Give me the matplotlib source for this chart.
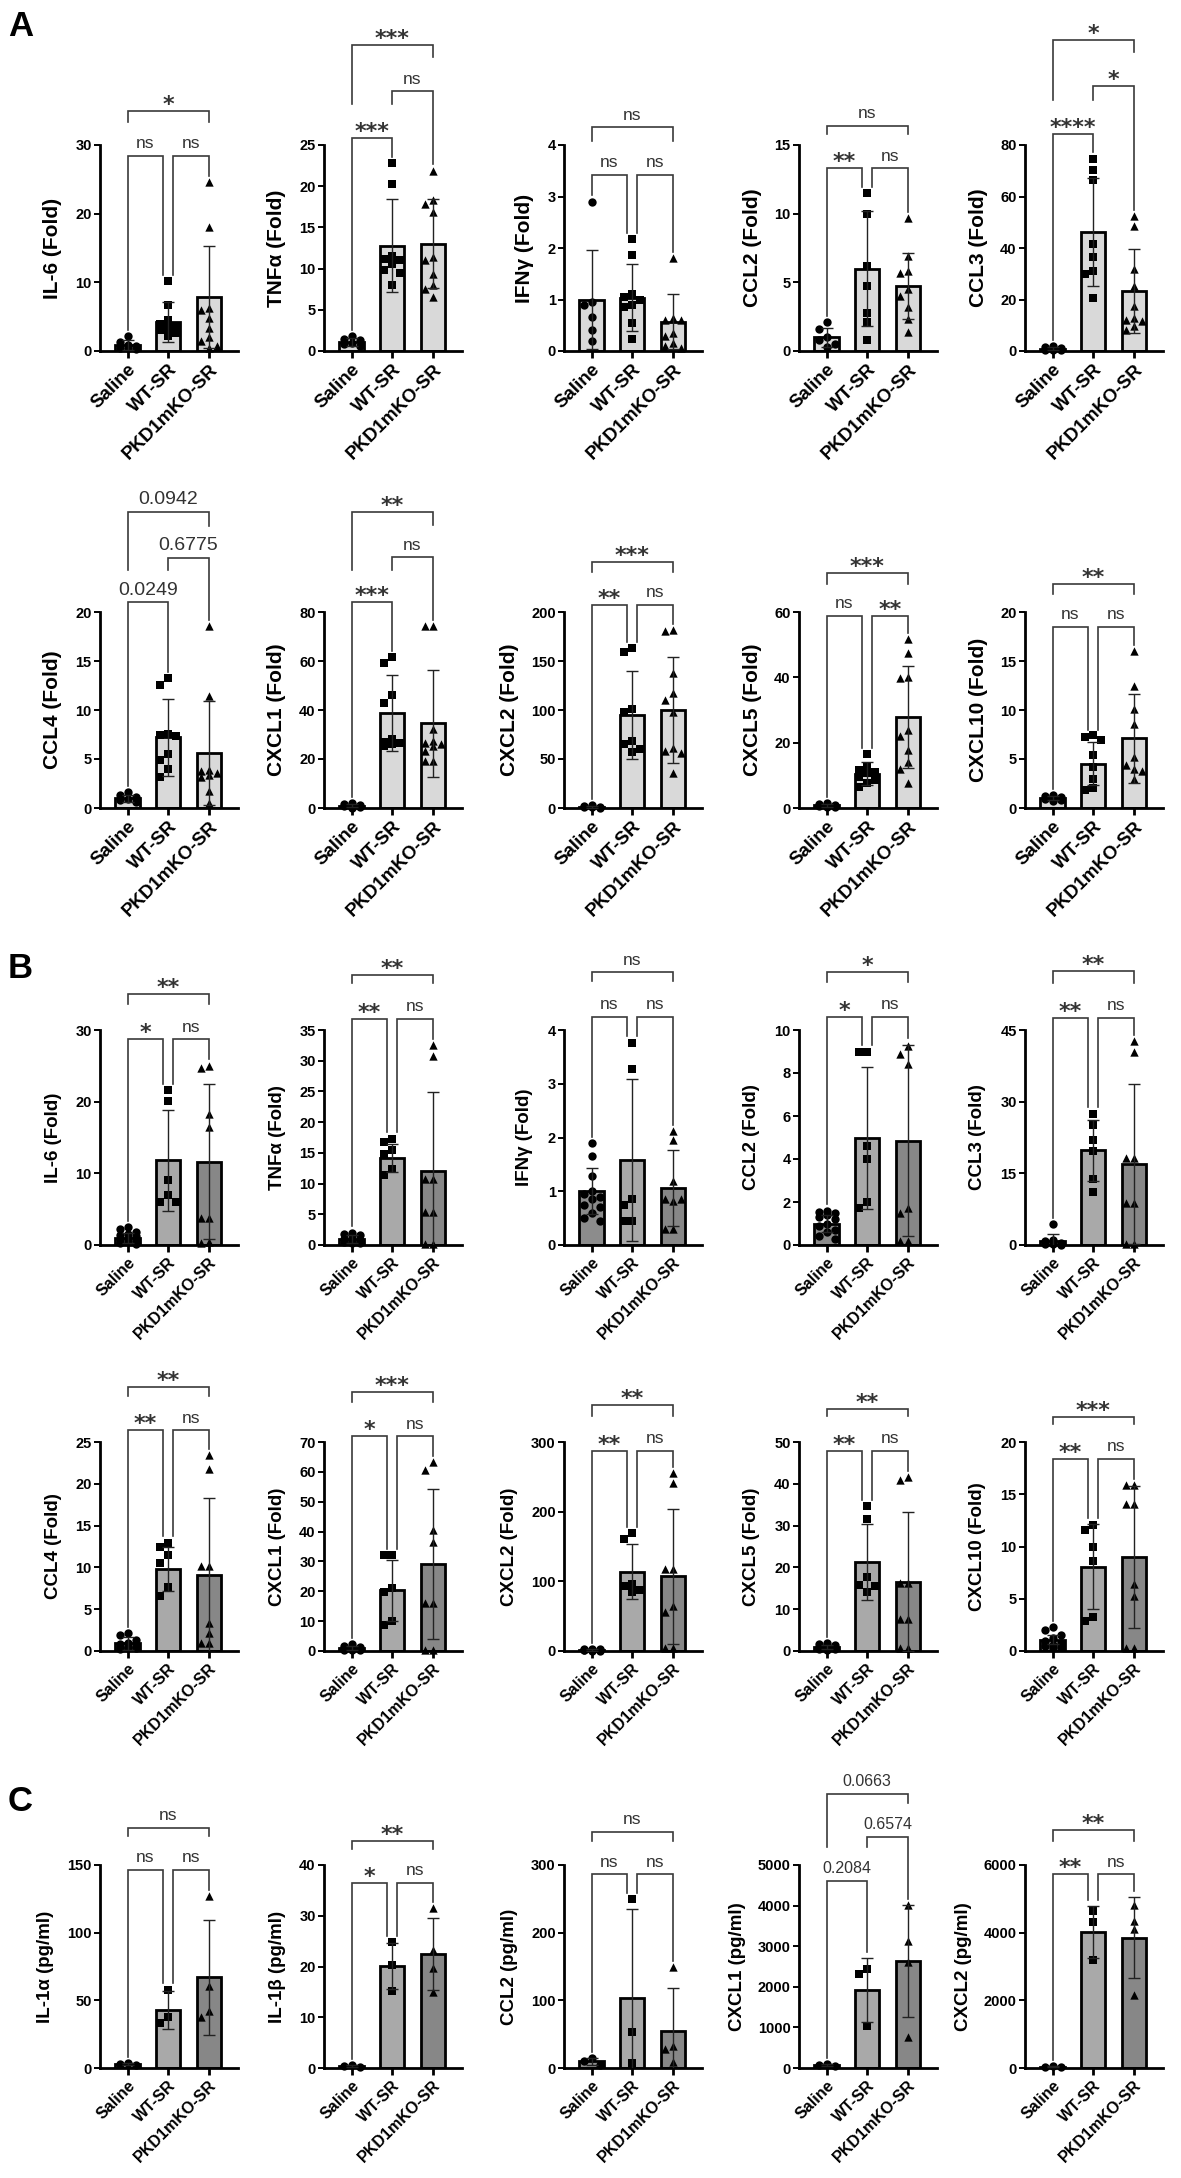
import numpy as np
import matplotlib
matplotlib.use("Agg")
import matplotlib.pyplot as plt

plt.rcParams['font.family'] = ['Liberation Sans', 'DejaVu Sans']

groups = ["Saline", "WT-SR", "PKD1mKO-SR"]

# ---------------- A (tissue mRNA, fold) ----------------
a_il6_pts = [[2.2, 1.3, 0.9, 0.7, 0.5, 0.4, 0.3],
             [10.2, 6.7, 4.5, 3.9, 3.6, 3.3, 3.0, 2.6, 2.2],
             [24.6, 18.0, 6.3, 6.0, 4.8, 3.4, 2.0, 1.5, 0.8, 0.5]]
a_il6_mean = [0.9, 4.2, 7.9]
a_il6_sd = [0.7, 2.9, 7.4]
a_il6_br = [28.4, 28.4, 35.0]
a_il6_sig = ["ns", "ns", "*"]

a_tnfa_pts = [[1.8, 1.5, 1.3, 1.0, 0.8, 0.6],
              [22.8, 20.3, 11.5, 11.2, 11.0, 10.5, 9.8, 9.5, 8.0],
              [21.9, 18.3, 17.9, 16.9, 11.4, 11.0, 9.4, 8.0, 7.5, 6.6]]
a_tnfa_mean = [1.1, 12.8, 13.0]
a_tnfa_sd = [0.5, 5.7, 5.4]
a_tnfa_br = [25.8, 31.5, 37.1]
a_tnfa_sig = ["***", "ns", "***"]

a_ifng_pts = [[2.9, 0.95, 0.9, 0.66, 0.4, 0.2],
              [2.18, 1.87, 1.1, 1.05, 1.0, 0.9, 0.85, 0.55, 0.23],
              [1.8, 0.65, 0.6, 0.6, 0.35, 0.3, 0.15, 0.1, 0.05]]
a_ifng_mean = [1.0, 1.03, 0.57]
a_ifng_sd = [0.97, 0.65, 0.53]
a_ifng_br = [3.42, 3.42, 4.34]
a_ifng_sig = ["ns", "ns", "ns"]

a_ccl2_pts = [[2.1, 1.6, 1.0, 0.8, 0.5, 0.3],
              [11.5, 10.0, 6.2, 4.7, 2.8, 2.1, 0.8],
              [9.7, 6.9, 5.8, 5.7, 4.5, 4.0, 3.2, 2.3, 1.35]]
a_ccl2_mean = [1.0, 6.0, 4.7]
a_ccl2_sd = [0.7, 4.2, 2.4]
a_ccl2_br = [13.3, 13.3, 16.4]
a_ccl2_sig = ["**", "ns", "ns"]

a_ccl3_pts = [[1.9, 1.5, 1.0, 0.8, 0.5, 0.3, 0.2],
              [74.7, 70.2, 66.5, 41.4, 36.4, 31.2, 29.8, 20.7],
              [52.4, 48.4, 31.8, 25.3, 17.4, 12.8, 12.0, 11.5, 9.6, 8.0]]
a_ccl3_mean = [0.9, 46.2, 23.4]
a_ccl3_sd = [0.6, 21.0, 16.3]
a_ccl3_br = [84.4, 102.9, 120.8]
a_ccl3_sig = ["****", "*", "*"]

a_ccl4_pts = [[1.6, 1.3, 1.1, 0.9, 0.8, 0.6],
              [13.3, 12.6, 7.6, 7.4, 7.3, 5.5, 4.9, 4.0, 3.2],
              [18.6, 11.4, 3.9, 3.8, 3.6, 3.4, 3.2, 1.7, 0.5]]
a_ccl4_mean = [1.0, 7.2, 5.6]
a_ccl4_sd = [0.35, 3.9, 5.3]
a_ccl4_br = [21.0, 25.5, 30.2]
a_ccl4_sig = ["0.0249", "0.6775", "0.0942"]

a_cxcl1_pts = [[2.0, 1.5, 1.2, 1.0, 0.7, 0.4, 0.2],
               [61.5, 59.1, 46.0, 42.9, 28.1, 27.0, 26.5, 26.0, 25.4],
               [74.4, 74.4, 32.1, 27.4, 26.5, 26.0, 25.5, 23.3, 19.3, 19.0]]
a_cxcl1_mean = [1.0, 38.6, 34.5]
a_cxcl1_sd = [0.6, 15.5, 21.8]
a_cxcl1_br = [84.1, 102.3, 120.8]
a_cxcl1_sig = ["***", "ns", "**"]

a_cxcl2_pts = [[3.0, 2.0, 1.5, 1.0, 0.6, 0.3],
               [163.7, 159.0, 101.4, 98.0, 68.5, 65.0, 59.9, 57.0],
               [182.0, 181.0, 137.7, 117.0, 110.0, 98.0, 61.6, 58.0, 56.4, 35.6]]
a_cxcl2_mean = [1.4, 94.5, 99.7]
a_cxcl2_sd = [1.0, 45.0, 54.0]
a_cxcl2_br = [207.6, 207.6, 251.0]
a_cxcl2_sig = ["**", "ns", "***"]

a_cxcl5_pts = [[1.5, 1.2, 1.0, 0.8, 0.6, 0.4, 0.3],
               [16.6, 12.5, 11.5, 11.0, 10.8, 9.5, 8.5, 7.8, 6.3],
               [51.7, 47.4, 40.2, 39.9, 23.9, 22.0, 17.9, 14.1, 12.0, 7.8]]
a_cxcl5_mean = [0.8, 10.5, 27.8]
a_cxcl5_sd = [0.4, 3.5, 15.6]
a_cxcl5_br = [58.8, 58.8, 72.0]
a_cxcl5_sig = ["ns", "**", "***"]

a_cxcl10_pts = [[1.3, 1.2, 1.1, 1.0, 0.9, 0.8, 0.7],
                [7.4, 7.2, 6.9, 5.4, 4.2, 3.0, 2.0, 1.8],
                [16.0, 12.5, 10.1, 8.6, 5.2, 4.4, 4.0, 3.8, 3.0]]
a_cxcl10_mean = [1.0, 4.5, 7.1]
a_cxcl10_sd = [0.2, 2.2, 4.5]
a_cxcl10_br = [18.5, 18.5, 22.9]
a_cxcl10_sig = ["ns", "ns", "**"]

# ---------------- B (fold) ----------------
b_il6_pts = [[2.5, 2.2, 1.8, 1.5, 1.4, 1.2, 1.0, 0.8, 0.6, 0.5, 0.3, 0.2],
             [21.6, 20.1, 9.1, 7.0, 6.0, 6.0],
             [25.0, 24.7, 18.3, 16.5, 3.7, 3.7, 0.4, 0.3]]
b_il6_mean = [1.0, 11.8, 11.6]
b_il6_sd = [0.7, 7.1, 10.8]
b_il6_br = [28.7, 28.7, 35.0]
b_il6_sig = ["*", "ns", "**"]

b_tnfa_pts = [[2.0, 1.8, 1.6, 1.3, 1.0, 0.8, 0.6, 0.5, 0.4, 0.3],
              [17.3, 16.8, 15.5, 14.8, 12.4, 11.4],
              [32.5, 30.8, 10.8, 10.8, 5.3, 5.3, 0.2, 0.2]]
b_tnfa_mean = [1.0, 14.2, 12.0]
b_tnfa_sd = [0.6, 2.3, 12.9]
b_tnfa_br = [36.8, 36.8, 43.9]
b_tnfa_sig = ["**", "ns", "**"]

b_ifng_pts = [[1.89, 1.65, 1.29, 1.0, 0.95, 0.9, 0.85, 0.75, 0.7, 0.6, 0.51, 0.45],
              [3.76, 3.28, 0.85, 0.75, 0.45, 0.45],
              [2.12, 1.96, 1.2, 0.82, 0.85, 0.85, 0.29, 0.3]]
b_ifng_mean = [1.0, 1.58, 1.06]
b_ifng_sd = [0.43, 1.5, 0.7]
b_ifng_br = [4.25, 4.25, 5.07]
b_ifng_sig = ["ns", "ns", "ns"]

b_ccl2_pts = [[1.6, 1.55, 1.5, 1.4, 1.3, 1.2, 1.0, 0.9, 0.7, 0.6, 0.4, 0.3],
              [8.98, 8.98, 4.6, 4.0, 2.0, 1.72],
              [9.25, 8.9, 8.4, 1.7, 1.5, 0.2, 0.2]]
b_ccl2_mean = [1.0, 4.98, 4.86]
b_ccl2_sd = [0.4, 3.3, 4.45]
b_ccl2_br = [10.6, 10.6, 12.7]
b_ccl2_sig = ["*", "ns", "*"]

b_ccl3_pts = [[4.3, 1.0, 0.8, 0.5, 0.3, 0.2, 0.1],
              [27.5, 25.2, 22.0, 19.7, 13.8, 11.1],
              [42.7, 40.5, 18.2, 18.2, 8.8, 8.8, 0.3, 0.3]]
b_ccl3_mean = [0.9, 19.8, 17.0]
b_ccl3_sd = [1.5, 6.4, 16.8]
b_ccl3_br = [47.5, 47.5, 57.3]
b_ccl3_sig = ["**", "ns", "**"]

b_ccl4_pts = [[2.1, 1.9, 1.3, 1.0, 0.8, 0.6, 0.5, 0.5, 0.4, 0.3, 0.2],
              [12.95, 12.5, 11.5, 10.5, 7.6, 6.6],
              [23.4, 21.8, 10.2, 10.2, 3.3, 2.1, 0.9, 0.9]]
b_ccl4_mean = [0.9, 9.8, 9.1]
b_ccl4_sd = [0.8, 2.6, 9.2]
b_ccl4_br = [26.4, 26.4, 31.6]
b_ccl4_sig = ["**", "ns", "**"]

b_cxcl1_pts = [[2.2, 1.8, 1.5, 1.2, 1.0, 0.8, 0.6, 0.5, 0.3, 0.2],
               [32.0, 32.0, 21.1, 19.8, 10.2, 8.7],
               [63.3, 60.6, 40.6, 36.4, 16.1, 16.1, 0.5, 0.5]]
b_cxcl1_mean = [1.0, 20.3, 29.2]
b_cxcl1_sd = [0.6, 10.2, 25.2]
b_cxcl1_br = [71.9, 71.9, 86.7]
b_cxcl1_sig = ["*", "ns", "***"]

b_cxcl2_pts = [[3.0, 2.5, 2.2, 2.0, 1.5, 1.2, 1.0, 0.8, 0.5, 0.3],
               [168.7, 161.3, 95.9, 93.5, 87.6, 85.0],
               [254.8, 241.0, 118.0, 118.0, 64.0, 56.6, 5.0, 5.0]]
b_cxcl2_mean = [1.5, 114.0, 107.0]
b_cxcl2_sd = [0.9, 39.0, 97.0]
b_cxcl2_br = [287.7, 287.7, 353.0]
b_cxcl2_sig = ["**", "ns", "**"]

b_cxcl5_pts = [[1.8, 1.6, 1.4, 1.2, 1.0, 0.8, 0.6, 0.5, 0.4, 0.3],
               [34.6, 31.5, 17.6, 15.8, 15.5, 14.0],
               [41.6, 40.9, 16.2, 16.2, 7.7, 7.7, 0.8, 0.8]]
b_cxcl5_mean = [1.0, 21.3, 16.6]
b_cxcl5_sd = [0.5, 9.0, 16.6]
b_cxcl5_br = [47.9, 47.9, 57.9]
b_cxcl5_sig = ["**", "ns", "**"]

b_cxcl10_pts = [[2.3, 2.0, 1.5, 1.2, 1.0, 0.8, 0.6, 0.5, 0.4, 0.3],
                [12.1, 11.6, 10.0, 8.6, 3.3, 2.9],
                [15.9, 15.9, 14.1, 14.1, 6.4, 5.3, 0.3, 0.3]]
b_cxcl10_mean = [1.1, 8.06, 9.0]
b_cxcl10_sd = [0.45, 4.05, 6.8]
b_cxcl10_br = [18.4, 18.4, 22.4]
b_cxcl10_sig = ["**", "ns", "***"]

# ---------------- C (protein, pg/ml) ----------------
c_il1a_pts = [[3.8, 3.0, 2.4], [58.0, 38.0, 33.0], [127.2, 60.8, 41.8, 37.7]]
c_il1a_mean = [3.1, 43.0, 66.9]
c_il1a_sd = [0.7, 14.0, 42.4]
c_il1a_br = [146.4, 146.4, 177.5]
c_il1a_sig = ["ns", "ns", "ns"]

c_il1b_pts = [[0.6, 0.4, 0.2], [24.8, 20.2, 15.2], [31.5, 23.3, 19.7, 15.0]]
c_il1b_mean = [0.4, 20.1, 22.4]
c_il1b_sd = [0.2, 4.5, 7.1]
c_il1b_br = [36.5, 36.5, 44.8]
c_il1b_sig = ["*", "ns", "**"]

c_ccl2_pts = [[15.0, 10.0, 4.0], [250.0, 53.5, 7.9], [148.8, 32.6, 27.9, 9.3]]
c_ccl2_mean = [9.7, 103.8, 54.7]
c_ccl2_sd = [5.5, 131.0, 63.5]
c_ccl2_br = [286.0, 286.0, 349.0]
c_ccl2_sig = ["ns", "ns", "ns"]

c_cxcl1_pts = [[100.0, 80.0, 60.0], [2436.0, 2308.0, 1026.0], [4017.0, 3137.0, 2607.0, 769.0]]
c_cxcl1_mean = [80.0, 1923.0, 2633.0]
c_cxcl1_sd = [20.0, 780.0, 1380.0]
c_cxcl1_br = [4615.0, 5700.0, 6752.0]
c_cxcl1_sig = ["0.2084", "0.6574", "0.0663"]

c_cxcl2_pts = [[50.0, 30.0, 20.0], [4632.0, 4307.0, 3192.0], [4814.0, 4358.0, 4105.0, 2159.0]]
c_cxcl2_mean = [33.0, 4030.0, 3851.0]
c_cxcl2_sd = [15.0, 770.0, 1190.0]
c_cxcl2_br = [5726.0, 5726.0, 7044.0]
c_cxcl2_sig = ["**", "ns", "**"]

rows = [
    [("IL-6 (Fold)", [0, 10, 20, 30], a_il6_pts, a_il6_mean, a_il6_sd, a_il6_br, a_il6_sig),
     ("TNFα (Fold)", [0, 5, 10, 15, 20, 25], a_tnfa_pts, a_tnfa_mean, a_tnfa_sd, a_tnfa_br, a_tnfa_sig),
     ("IFNγ (Fold)", [0, 1, 2, 3, 4], a_ifng_pts, a_ifng_mean, a_ifng_sd, a_ifng_br, a_ifng_sig),
     ("CCL2 (Fold)", [0, 5, 10, 15], a_ccl2_pts, a_ccl2_mean, a_ccl2_sd, a_ccl2_br, a_ccl2_sig),
     ("CCL3 (Fold)", [0, 20, 40, 60, 80], a_ccl3_pts, a_ccl3_mean, a_ccl3_sd, a_ccl3_br, a_ccl3_sig)],
    [("CCL4 (Fold)", [0, 5, 10, 15, 20], a_ccl4_pts, a_ccl4_mean, a_ccl4_sd, a_ccl4_br, a_ccl4_sig),
     ("CXCL1 (Fold)", [0, 20, 40, 60, 80], a_cxcl1_pts, a_cxcl1_mean, a_cxcl1_sd, a_cxcl1_br, a_cxcl1_sig),
     ("CXCL2 (Fold)", [0, 50, 100, 150, 200], a_cxcl2_pts, a_cxcl2_mean, a_cxcl2_sd, a_cxcl2_br, a_cxcl2_sig),
     ("CXCL5 (Fold)", [0, 20, 40, 60], a_cxcl5_pts, a_cxcl5_mean, a_cxcl5_sd, a_cxcl5_br, a_cxcl5_sig),
     ("CXCL10 (Fold)", [0, 5, 10, 15, 20], a_cxcl10_pts, a_cxcl10_mean, a_cxcl10_sd, a_cxcl10_br, a_cxcl10_sig)],
    [("IL-6 (Fold)", [0, 10, 20, 30], b_il6_pts, b_il6_mean, b_il6_sd, b_il6_br, b_il6_sig),
     ("TNFα (Fold)", [0, 5, 10, 15, 20, 25, 30, 35], b_tnfa_pts, b_tnfa_mean, b_tnfa_sd, b_tnfa_br, b_tnfa_sig),
     ("IFNγ (Fold)", [0, 1, 2, 3, 4], b_ifng_pts, b_ifng_mean, b_ifng_sd, b_ifng_br, b_ifng_sig),
     ("CCL2 (Fold)", [0, 2, 4, 6, 8, 10], b_ccl2_pts, b_ccl2_mean, b_ccl2_sd, b_ccl2_br, b_ccl2_sig),
     ("CCL3 (Fold)", [0, 15, 30, 45], b_ccl3_pts, b_ccl3_mean, b_ccl3_sd, b_ccl3_br, b_ccl3_sig)],
    [("CCL4 (Fold)", [0, 5, 10, 15, 20, 25], b_ccl4_pts, b_ccl4_mean, b_ccl4_sd, b_ccl4_br, b_ccl4_sig),
     ("CXCL1 (Fold)", [0, 10, 20, 30, 40, 50, 60, 70], b_cxcl1_pts, b_cxcl1_mean, b_cxcl1_sd, b_cxcl1_br, b_cxcl1_sig),
     ("CXCL2 (Fold)", [0, 100, 200, 300], b_cxcl2_pts, b_cxcl2_mean, b_cxcl2_sd, b_cxcl2_br, b_cxcl2_sig),
     ("CXCL5 (Fold)", [0, 10, 20, 30, 40, 50], b_cxcl5_pts, b_cxcl5_mean, b_cxcl5_sd, b_cxcl5_br, b_cxcl5_sig),
     ("CXCL10 (Fold)", [0, 5, 10, 15, 20], b_cxcl10_pts, b_cxcl10_mean, b_cxcl10_sd, b_cxcl10_br, b_cxcl10_sig)],
    [("IL-1α (pg/ml)", [0, 50, 100, 150], c_il1a_pts, c_il1a_mean, c_il1a_sd, c_il1a_br, c_il1a_sig),
     ("IL-1β (pg/ml)", [0, 10, 20, 30, 40], c_il1b_pts, c_il1b_mean, c_il1b_sd, c_il1b_br, c_il1b_sig),
     ("CCL2 (pg/ml)", [0, 100, 200, 300], c_ccl2_pts, c_ccl2_mean, c_ccl2_sd, c_ccl2_br, c_ccl2_sig),
     ("CXCL1 (pg/ml)", [0, 1000, 2000, 3000, 4000, 5000], c_cxcl1_pts, c_cxcl1_mean, c_cxcl1_sd, c_cxcl1_br, c_cxcl1_sig),
     ("CXCL2 (pg/ml)", [0, 2000, 4000, 6000], c_cxcl2_pts, c_cxcl2_mean, c_cxcl2_sd, c_cxcl2_br, c_cxcl2_sig)],
]

# layout in pixels
W, H = 1181, 2178
col_x = [100, 324, 564, 799, 1025]
ax_w = 138
row_y = [(351, 145), (808, 612), (1245, 1030), (1651, 1442), (2068, 1865)]
light = ['#d9d9d9'] * 3
grays = ['#8c8c8c', '#a9a9a9', '#878787']
markers = ['o', 's', '^']
XMIN, XMAX = -0.68, 2.72

fig = plt.figure(figsize=(W / 100, H / 100), dpi=100)


def swarm(vals, ppu_x, ppu_y, diam=8.5, maxoff=13.0):
    # deterministic side-by-side placement of overlapping points
    placed = []
    offs = []
    step = diam * 0.95
    cands = [0.0]
    k = 1
    while k * step <= maxoff:
        cands += [-k * step, k * step]
        k += 1
    for v in vals:
        y = v * ppu_y
        best, best_d = 0.0, -1.0
        for cnd in cands:
            d = min([np.hypot(cnd - px, y - py) for px, py in placed] or [1e9])
            if d >= diam:
                best = cnd
                break
            if d > best_d:
                best, best_d = cnd, d
        placed.append((best, y))
        offs.append(best / ppu_x)
    return offs


def draw(ax, spec, style_a, hpx, numsize):
    ylabel, ticks, pts, mean, sd, br, sig = spec
    ymax = ticks[-1]
    x = np.arange(3)
    ax.bar(x, mean, width=0.6, color=light if style_a else grays,
           edgecolor='black', linewidth=2.0, zorder=2)
    ppu_x = ax_w / (XMAX - XMIN)
    ppu_y = hpx / ymax
    for g in range(3):
        offs = swarm(pts[g], ppu_x, ppu_y)
        ax.scatter(g + np.array(offs), pts[g], marker=markers[g], s=36,
                   color='black', zorder=3, clip_on=False, linewidths=0)
    ax.errorbar(x, mean, yerr=sd, fmt='none', ecolor='#222222', elinewidth=1.0,
                capsize=4.5, capthick=1.0, zorder=4)
    ax.set_xlim(XMIN, XMAX)
    ax.set_ylim(0, ymax)
    ax.set_yticks(ticks)
    ax.set_yticklabels([str(t) for t in ticks], fontsize=10.5, fontweight='bold')
    ax.set_xticks(x)
    ax.set_xticklabels(groups, rotation=45, ha='right', rotation_mode='anchor',
                       fontsize=13.5 if style_a else 11.5, fontweight='bold')
    for s in ['top', 'right']:
        ax.spines[s].set_visible(False)
    for s in ['left', 'bottom']:
        ax.spines[s].set_linewidth(2.0)
    ax.tick_params(axis='x', length=5, width=2.0, pad=2)
    ax.tick_params(axis='y', length=4, width=1.4, pad=2)
    nd = max(len(str(t)) for t in ticks)
    off = 32 + 7.5 * nd
    ax.text(-off / ax_w, 0.5, ylabel, transform=ax.transAxes, rotation=90,
            ha='center', va='center', fontsize=15 if style_a else 13.5, fontweight='bold')

    # comparison brackets
    pairs = [(0, 1), (1, 2), (0, 2)]
    top = [max(max(p), m + s) for p, m, s in zip(pts, mean, sd)]
    same = abs(br[0] - br[1]) < 1e-9
    for k, (i, j) in enumerate(pairs):
        y = br[k]
        xi, xj = float(i), float(j)
        if same and k == 0:
            xj -= 0.12
        if same and k == 1:
            xi += 0.12
        legs = []
        for g in (i, j):
            lower = [br[q] for q, (a, b) in enumerate(pairs)
                     if q != k and br[q] < y - 1e-9 and a <= g <= b]
            if lower:
                bot = max(lower) + 0.165 * ymax
            else:
                bot = top[g] + 0.03 * ymax
            legs.append(min(bot, y - 0.03 * ymax))
        ax.plot([xi, xi, xj, xj], [legs[0], y, y, legs[1]], color='#3a3a3a',
                lw=1.2, clip_on=False, solid_joinstyle='miter', zorder=5)
        lab = sig[k]
        if lab.startswith('*'):
            ax.annotate(lab, xy=((xi + xj) / 2, y), xytext=(0, 0.0), textcoords='offset points',
                        ha='center', va='baseline', fontsize=16, fontweight='bold', color='#333333',
                        family='DejaVu Sans', annotation_clip=False)
        else:
            ax.annotate(lab, xy=((xi + xj) / 2, y), xytext=(0, 5.5), textcoords='offset points',
                        ha='center', va='baseline', fontsize=numsize if lab[0].isdigit() else 12.5,
                        color='#333333', annotation_clip=False)


for r, row in enumerate(rows):
    y0, yt = row_y[r]
    hpx = y0 - yt
    for c, spec in enumerate(row):
        ax = fig.add_axes([col_x[c] / W, 1 - y0 / H, ax_w / W, hpx / H])
        draw(ax, spec, r < 2, hpx, 11.5 if r == 4 else 14)

for lab, yy in [("A", 10), ("B", 952), ("C", 1785)]:
    fig.text(8 / W, 1 - yy / H, lab, fontsize=25, fontweight='bold', va='top', ha='left')

fig.savefig("out.png", dpi=100)
